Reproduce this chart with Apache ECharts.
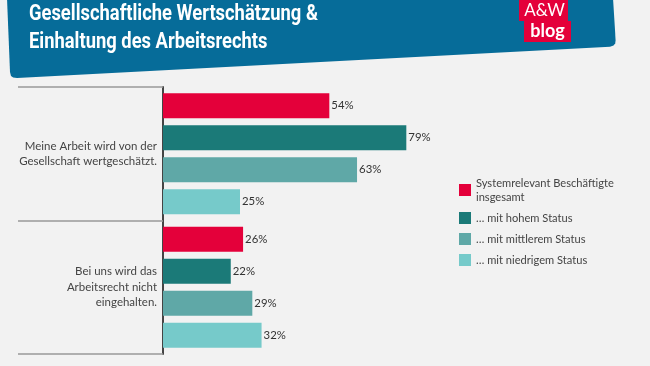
<!DOCTYPE html>
<html>
<head>
<meta charset="utf-8">
<script src="https://cdn.jsdelivr.net/npm/echarts@6/dist/echarts.min.js"></script>
<style>html,body{margin:0;padding:0;background:#f2f2f2}#c{width:650px;height:366px}</style>
</head>
<body>
<div id="c"></div>
<script>
const categories = ["Meine Arbeit wird von der\nGesellschaft wertgeschätzt.", "Bei uns wird das\nArbeitsrecht nicht\neingehalten."];
const seriesNames = ["Systemrelevant Beschäftigte\ninsgesamt", "… mit hohem Status", "… mit mittlerem Status", "… mit niedrigem Status"];
const insgesamt = [54, 26];
const hohemStatus = [79, 22];
const mittleremStatus = [63, 29];
const niedrigemStatus = [25, 32];
const colors = ["#e4003a", "#1b7a78", "#5fa8a7", "#76caca"];
const titleLines = ["Gesellschaftliche Wertschätzung &", "Einhaltung des Arbeitsrechts"];

const labelFont = "Lato";
const titleFont = "Roboto";

function measure(text, font) {
  const ctx = document.createElement("canvas").getContext("2d");
  ctx.font = font;
  return ctx.measureText(text).width;
}
const tFont = "bold 22px " + titleFont;
const sx = 289 / measure(titleLines[0], tFont);
// fit text sizes to the widths seen in the reference
const catSize = 13 * 138 / measure("Gesellschaft wertgeschätzt.", "13px " + labelFont);
const legSize = 13 * 138 / measure("Systemrelevant Beschäftigte", "13px " + labelFont);
const valSize = 13 * 22.3 / measure("54%", "13px " + labelFont);

const bannerPts = [[7,-2],[613,-2],[615.6,40],[615.2,43.5],[613.5,45.6],[610,46.8],[17,78],[13.2,77.6],[11,76],[10,72]];

const chart = echarts.init(document.getElementById("c"));
const seriesData = [insgesamt, hohemStatus, mittleremStatus, niedrigemStatus];
chart.setOption({
  backgroundColor: "#f2f2f2",
  animation: false,
  graphic: [
    { type: "polygon", z: 0, shape: { points: bannerPts }, style: { fill: "#066c99" } },
    { type: "text", x: 29, y: 14, scaleX: sx, style: { text: titleLines[0], font: tFont, fill: "#fff", verticalAlign: "middle" } },
    { type: "text", x: 29, y: 42, scaleX: sx, style: { text: titleLines[1], font: tFont, fill: "#fff", verticalAlign: "middle" } },
    { type: "rect", shape: { x: 519, y: 0, width: 49, height: 21 }, style: { fill: "#e4003a" } },
    { type: "rect", shape: { x: 524, y: 21, width: 47, height: 21 }, style: { fill: "#e4003a" } },
    { type: "text", x: 544.5, y: 10.5, style: { text: "A&W", font: "17px " + labelFont, fill: "#fff", align: "center", verticalAlign: "middle" } },
    { type: "text", x: 547.5, y: 31, style: { text: "blog", font: "bold 18px " + labelFont, fill: "#fff", align: "center", verticalAlign: "middle" } }
  ],
  legend: {
    orient: "vertical",
    left: 459,
    top: 176,
    padding: 0,
    itemWidth: 12,
    itemHeight: 12,
    itemGap: 7,
    icon: "rect",
    textStyle: { fontFamily: labelFont, fontSize: legSize, color: "#444", lineHeight: 14 },
    data: seriesNames
  },
  grid: { left: 163, top: 87, width: 308, height: 267, containLabel: false },
  xAxis: { type: "value", min: 0, max: 100, show: false },
  yAxis: {
    type: "category",
    inverse: true,
    data: categories,
    axisLine: { show: true, lineStyle: { color: "#444", width: 2 } },
    axisTick: { show: true, length: 145, lineStyle: { color: "#999", width: 1.5 } },
    axisLabel: { margin: 6, color: "#444", fontFamily: labelFont, fontSize: catSize, lineHeight: 15.5, align: "right" },
    splitLine: { show: false }
  },
  series: seriesNames.map((n, i) => ({
    name: n,
    type: "bar",
    data: seriesData[i],
    barWidth: 25,
    barGap: "28%",
    itemStyle: { color: colors[i] },
    label: { show: true, position: "right", distance: 2, formatter: "{c}%", fontFamily: labelFont, fontSize: valSize, color: "#333" }
  }))
});
</script>
</body>
</html>
